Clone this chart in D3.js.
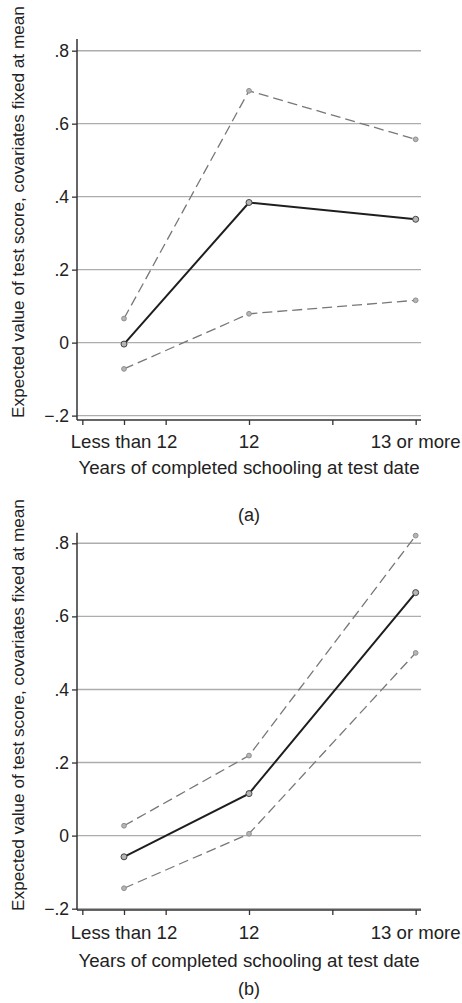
<!DOCTYPE html>
<html>
<head>
<meta charset="utf-8">
<script src="https://cdn.jsdelivr.net/npm/d3@7"></script>
<style>
  html, body { margin: 0; padding: 0; background: #fff; }
  svg { display: block; }
  text { font-family: "Liberation Sans", Arial, sans-serif; fill: #222; }
</style>
</head>
<body>
<script>
// Categories of schooling and their positions on the numeric x axis
const categories = ["Less than 12", "12", "13 or more"];
const categoryPositions = [1, 4, 8];
const xTickValues = [0, 1, 2, 4, 6, 8];

// Y axis ticks
const yTickValues = [-0.2, 0, 0.2, 0.4, 0.6, 0.8];
const yTickLabels = ["\u2212.2", "0", ".2", ".4", ".6", ".8"];

// Panel (a): expected test score with confidence bounds
const panelAEstimate = [-0.004, 0.384, 0.338];
const panelAUpper = [0.066, 0.690, 0.557];
const panelALower = [-0.072, 0.079, 0.116];

// Panel (b): expected test score with confidence bounds
const panelBEstimate = [-0.058, 0.115, 0.665];
const panelBUpper = [0.027, 0.219, 0.821];
const panelBLower = [-0.144, 0.005, 0.500];

const xTitle = "Years of completed schooling at test date";
const yTitle = "Expected value of test score, covariates fixed at mean";

const W = 462, H = 1003;
const svg = d3.select("body").append("svg").attr("width", W).attr("height", H);
svg.append("rect").attr("width", W).attr("height", H).attr("fill", "#fff");

const panels = [
  { caption: "(a)", est: panelAEstimate, up: panelAUpper, lo: panelALower,
    yDomain: [-0.212, 0.832], top: 39, bottom: 420,
    labelY: 448, titleY: 474, captionY: 521, yTitleCenter: 212 },
  { caption: "(b)", est: panelBEstimate, up: panelBUpper, lo: panelBLower,
    yDomain: [-0.2036, 0.829], top: 532.7, bottom: 910,
    labelY: 939, titleY: 967, captionY: 995, yTitleCenter: 705 }
];

const left = 77, right = 421;
const x = d3.scaleLinear().domain([-0.128, 8.128]).range([left, right]);

panels.forEach(p => {
  const y = d3.scaleLinear().domain(p.yDomain).range([p.bottom, p.top]);
  const g = svg.append("g");

  // horizontal grid lines
  g.selectAll("line.grid").data(yTickValues).join("line")
    .attr("class", "grid")
    .attr("x1", left).attr("x2", right)
    .attr("y1", d => y(d)).attr("y2", d => y(d))
    .attr("stroke", "#adadad").attr("stroke-width", 1.4);

  // y axis
  const yAxis = d3.axisLeft(y).tickValues(yTickValues)
    .tickFormat((d, i) => yTickLabels[i]).tickSize(5).tickPadding(3);
  const ya = g.append("g").attr("transform", `translate(${left},0)`).call(yAxis);
  ya.select(".domain").attr("stroke", "#333").attr("stroke-width", 1.5)
    .attr("d", `M0,${p.top}V${p.bottom}`);
  ya.selectAll(".tick line").attr("stroke", "#333").attr("stroke-width", 1.3);
  ya.selectAll(".tick text").attr("font-size", 17.5).attr("fill", "#222")
    .attr("font-family", "Liberation Sans, Arial, sans-serif");

  // x axis
  const xAxis = d3.axisBottom(x).tickValues(xTickValues)
    .tickFormat(() => "").tickSize(5);
  const xa = g.append("g").attr("transform", `translate(0,${p.bottom})`).call(xAxis);
  xa.select(".domain").attr("stroke", "#333").attr("stroke-width", 1.5)
    .attr("d", `M${left},0H${right}`);
  xa.selectAll(".tick line").attr("stroke", "#333").attr("stroke-width", 1.3);

  // category labels
  g.selectAll("text.cat").data(categories).join("text")
    .attr("class", "cat")
    .attr("x", (d, i) => x(categoryPositions[i]))
    .attr("y", p.labelY)
    .attr("text-anchor", "middle").attr("font-size", 18.6)
    .text(d => d);

  // axis titles
  g.append("text").attr("x", (left + right) / 2).attr("y", p.titleY)
    .attr("text-anchor", "middle").attr("font-size", 18.7).text(xTitle);
  g.append("text")
    .attr("transform", `translate(23.5,${p.yTitleCenter}) rotate(-90)`)
    .attr("text-anchor", "middle").attr("font-size", 17.2).text(yTitle);
  g.append("text").attr("x", 249).attr("y", p.captionY)
    .attr("text-anchor", "middle").attr("font-size", 18).text(p.caption);

  const line = d3.line().x((d, i) => x(categoryPositions[i])).y(d => y(d));

  // confidence bounds
  [p.up, p.lo].forEach(series => {
    g.append("path").datum(series).attr("d", line)
      .attr("fill", "none").attr("stroke", "#777").attr("stroke-width", 1.3)
      .attr("stroke-dasharray", "10,5");
    g.selectAll(null).data(series).join("circle")
      .attr("cx", (d, i) => x(categoryPositions[i])).attr("cy", d => y(d))
      .attr("r", 2.4).attr("fill", "#b5b5b5").attr("stroke", "#888").attr("stroke-width", 0.9);
  });

  // point estimate
  g.append("path").datum(p.est).attr("d", line)
    .attr("fill", "none").attr("stroke", "#1e1e1e").attr("stroke-width", 2);
  g.selectAll(null).data(p.est).join("circle")
    .attr("cx", (d, i) => x(categoryPositions[i])).attr("cy", d => y(d))
    .attr("r", 3).attr("fill", "#b5b5b5").attr("stroke", "#444").attr("stroke-width", 1);
});
</script>
</body>
</html>
